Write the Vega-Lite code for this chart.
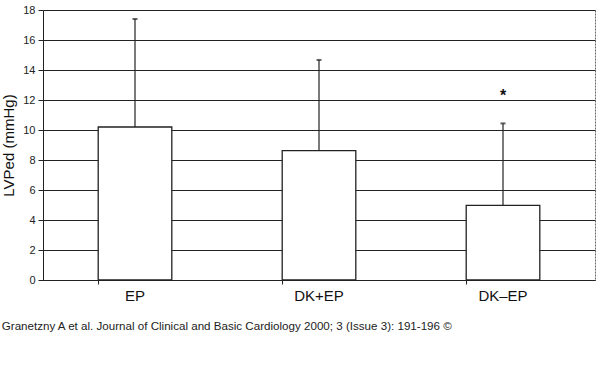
{
  "$schema": "https://vega.github.io/schema/vega-lite/v6.json",
  "autosize": {"type": "none"},
  "width": 552,
  "height": 270,
  "padding": {"left": 43, "top": 10, "right": 5, "bottom": 96},
  "background": "white",
  "config": {
    "font": "Liberation Sans",
    "view": {"stroke": "#666", "strokeDash": [2, 1], "strokeWidth": 1},
    "axisY": {"tickCount": 10, "labelOverlap": false}
  },
  "title": {
    "text": "Granetzny A et al. Journal of Clinical and Basic Cardiology 2000; 3 (Issue 3): 191-196 ©",
    "orient": "bottom",
    "anchor": "start",
    "frame": "bounds",
    "dx": 0,
    "offset": 18,
    "fontSize": 11.6,
    "fontWeight": "normal",
    "color": "#222",
    "font": "Liberation Sans"
  },
  "data": {
    "values": [
      {"group": "EP", "mean": 10.2, "upper": 17.4, "star": null},
      {"group": "DK+EP", "mean": 8.62, "upper": 14.67, "star": null},
      {"group": "DK–EP", "mean": 4.98, "upper": 10.44, "star": 12.47}
    ]
  },
  "encoding": {
    "x": {
      "field": "group",
      "type": "nominal",
      "sort": null,
      "scale": {"paddingInner": 0.6, "paddingOuter": 0.3},
      "axis": {
        "title": null,
        "labelAngle": 0,
        "labelFontSize": 15,
        "labelColor": "#111",
        "labelPadding": 4,
        "domainColor": "#222",
        "tickColor": "#222",
        "tickSize": 4,
        "bandPosition": 0,
        "grid": false
      }
    },
    "y": {
      "field": "mean",
      "type": "quantitative",
      "scale": {"domain": [0, 18], "nice": false},
      "axis": {
        "title": "LVPed (mmHg)",
        "titleFontSize": 15,
        "titleFontWeight": "normal",
        "titleColor": "#111",
        "titlePadding": 6,
        "values": [0, 2, 4, 6, 8, 10, 12, 14, 16, 18],
        "tickCount": 10,
        "labelFontSize": 11,
        "labelColor": "#222",
        "labelPadding": 3,
        "tickSize": 5,
        "tickColor": "#222",
        "domainColor": "#222",
        "grid": true,
        "gridColor": "#222",
        "gridOpacity": 1,
        "gridWidth": 1.2
      }
    }
  },
  "layer": [
    {
      "mark": {"type": "rule", "color": "#222", "strokeWidth": 1.2},
      "encoding": {
        "y2": {"field": "upper"}
      }
    },
    {
      "mark": {"type": "tick", "color": "#222", "thickness": 2, "size": 5},
      "encoding": {
        "y": {"field": "upper", "type": "quantitative", "title": "LVPed (mmHg)"}
      }
    },
    {
      "mark": {"type": "bar", "fill": "white", "stroke": "#222", "strokeWidth": 1.3}
    },
    {
      "mark": {"type": "text", "text": "*", "fontSize": 16, "fontWeight": "bold", "color": "#111", "baseline": "middle", "dy": 3},
      "encoding": {
        "y": {"field": "star", "type": "quantitative", "title": "LVPed (mmHg)"}
      }
    }
  ]
}
